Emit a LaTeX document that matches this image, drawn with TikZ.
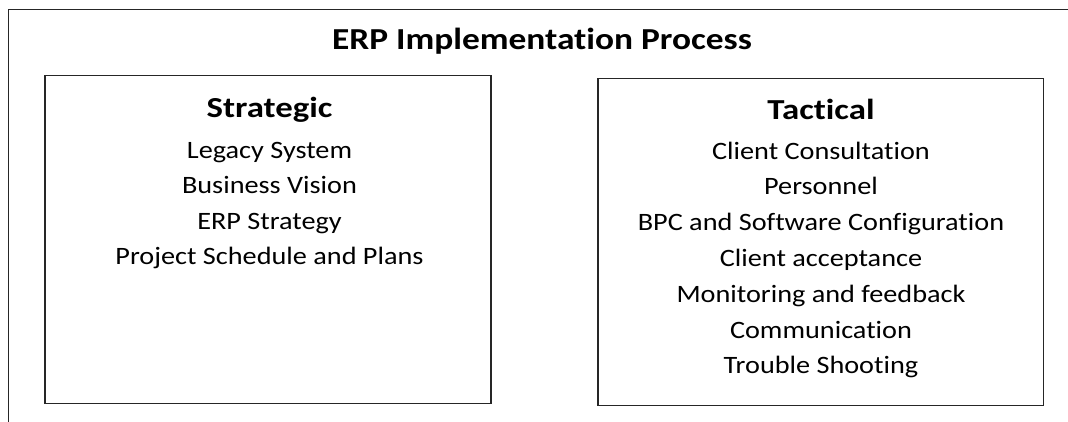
\documentclass[tikz,border=0pt]{standalone}
\usepackage{fontspec}
\setmainfont{Carlito}[Ligatures={NoCommon,NoContextual}]
\newfontfamily\titlefont{Carlito}[Ligatures={NoCommon,NoContextual},FakeStretch=1.16]
\newfontfamily\headfont{Carlito}[Ligatures={NoCommon,NoContextual},FakeStretch=1.2]
\newfontfamily\itemfont{Carlito}[Ligatures={NoCommon,NoContextual},FakeStretch=1.13]
\begin{document}
\begin{tikzpicture}[x=1pt,y=-1pt,
  frame/.style={draw=black!85,line width=1.3pt},
  head/.style={anchor=base,inner sep=0pt,font=\headfont\fontsize{29}{31}\selectfont\bfseries},
  title/.style={anchor=base,inner sep=0pt,font=\titlefont\fontsize{30.5}{32}\selectfont\bfseries},
  item/.style={anchor=base,inner sep=0pt,font=\itemfont\fontsize{25}{27}\selectfont}]
\useasboundingbox (0,0) rectangle (1068,421);
\begin{scope}
\clip (0,0) rectangle (1068,421);
\draw[frame] (8.5,9.5) rectangle (1090,440);
\end{scope}
\node[title] (t) at (542,49.5) {ERP Implementation Process};
\draw[frame] (45,75.5) rectangle (491,403.5);
\draw[frame] (598,78.5) rectangle (1043.5,405.5);
\node[head] (s) at (269.5,117) {Strategic};
\node[item] (s1) at (269.5,158) {Legacy System};
\node[item] (s2) at (269.5,193.5) {Business Vision};
\node[item] (s3) at (269.5,229) {ERP Strategy};
\node[item] (s4) at (269.5,264.5) {Project Schedule and Plans};
\node[head] (r) at (821,119) {Tactical};
\node[item] (r1) at (821,159) {Client Consultation};
\node[item] (r2) at (821,194.8) {Personnel};
\node[item] (r3) at (821,230.6) {BPC and Software Configuration};
\node[item] (r4) at (821,266.4) {Client acceptance};
\node[item] (r5) at (821,302.2) {Monitoring and feedback};
\node[item] (r6) at (821,338) {Communication};
\node[item] (r7) at (821,373.8) {Trouble Shooting};
\end{tikzpicture}
\end{document}
